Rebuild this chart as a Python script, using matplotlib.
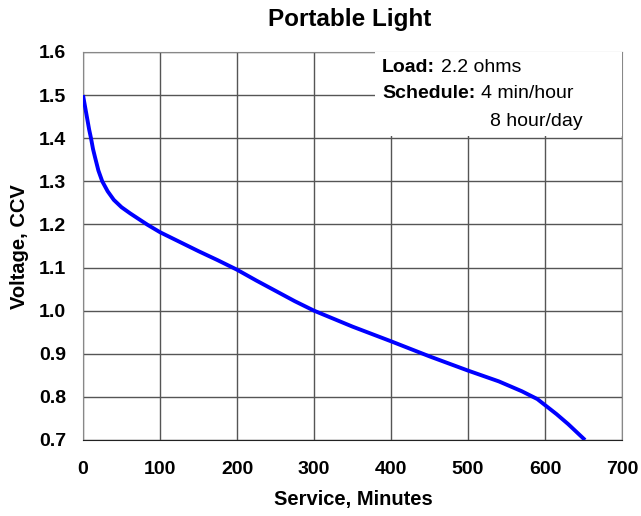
import matplotlib

matplotlib.use("Agg")
import matplotlib.pyplot as plt

plt.rcParams["font.family"] = ["Liberation Sans", "DejaVu Sans"]

# service time (minutes) vs closed-circuit voltage
minutes = [0, 3, 5, 8, 10.4, 13, 15.6, 20, 25, 32, 40, 50, 61, 72, 84, 100, 125, 150,
           175, 200, 225, 250, 275, 300, 350, 400, 450, 500, 540, 570, 590, 600, 615,
           630, 652]
voltage = [1.50, 1.47, 1.45, 1.42, 1.40, 1.375, 1.356, 1.325, 1.30, 1.277, 1.257,
           1.240, 1.226, 1.213, 1.199, 1.182, 1.16, 1.138, 1.117, 1.095, 1.07, 1.046,
           1.022, 1.0, 0.963, 0.929, 0.894, 0.861, 0.836, 0.813, 0.795, 0.781, 0.76,
           0.737, 0.70]

x_ticks = [0, 100, 200, 300, 400, 500, 600, 700]
y_ticks = [0.7, 0.8, 0.9, 1.0, 1.1, 1.2, 1.3, 1.4, 1.5, 1.6]

W, H = 641, 516
fig = plt.figure(figsize=(W / 100, H / 100), dpi=100)
ax = fig.add_axes([83 / W, 1 - 440 / H, (622 - 83) / W, (440 - 52) / H])


def px(x, y):
    # figure fraction from pixel position (origin top-left)
    return x / W, 1 - y / H


ax.plot(minutes, voltage, color="#0000ff", lw=2.8, solid_capstyle="butt", zorder=3)

ax.set_xlim(0, 700)
ax.set_ylim(0.7, 1.6)
ax.set_xticks(x_ticks)
ax.set_yticks(y_ticks)
ax.set_yticklabels([f"{v:.1f}" for v in y_ticks])
ax.grid(True, color="#555555", lw=1.0)
ax.set_axisbelow(True)
ax.tick_params(length=0, labelsize=14)
ax.tick_params(axis="x", pad=15)
ax.tick_params(axis="y", pad=12)
for lab in ax.get_xticklabels() + ax.get_yticklabels():
    lab.set_fontweight("bold")
for side in ["top", "right", "left"]:
    ax.spines[side].set_color("#888888")
ax.spines["bottom"].set_color("#222222")

fig.text(*px(350, 26), "Portable Light", fontsize=17.5, fontweight="bold",
         ha="center", va="baseline")
fig.text(*px(353, 500), "Service, Minutes", fontsize=14.5, fontweight="bold",
         ha="center", va="center")
fig.text(*px(20, 247), "Voltage, CCV", fontsize=14.5, fontweight="bold",
         ha="center", va="center", rotation=90)

# white note box in the upper right
box = plt.Rectangle(((375 - 83) / 539, (440 - 136) / 388), 1, 1,
                    transform=ax.transAxes, facecolor="white", edgecolor="none",
                    zorder=4, clip_on=True)
ax.add_patch(box)
note = dict(fontsize=14, va="center", zorder=5)
fig.text(*px(382, 67), "Load:", fontweight="bold", **note)
fig.text(*px(441, 67), "2.2 ohms", **note)
fig.text(*px(382, 94), "Schedule:", fontweight="bold", **note)
fig.text(*px(481, 94), "4 min/hour", **note)
fig.text(*px(583, 121), "8 hour/day", ha="right", **note)

fig.savefig("out.png", dpi=100, facecolor="white")
